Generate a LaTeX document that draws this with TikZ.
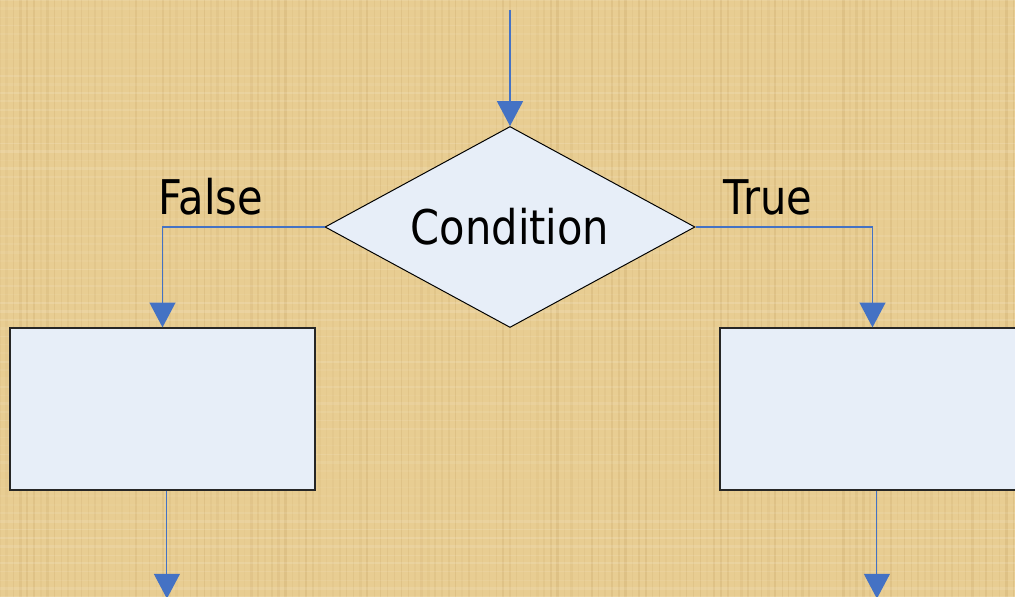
\documentclass[tikz,border=0pt]{standalone}
\usepackage{fontspec}
\setmainfont{DejaVu Sans}[FakeStretch=0.87]
\usepackage{xcolor}
\usetikzlibrary{shapes.geometric,arrows.meta,positioning,calc}
\definecolor{papyrus}{RGB}{232,205,146}
\definecolor{reedbrown}{RGB}{176,136,70}
\definecolor{flowblue}{RGB}{68,114,196}
\definecolor{boxfill}{RGB}{231,238,248}

\begin{document}
\begin{tikzpicture}[
    decision/.style={diamond, aspect=1.84, minimum width=9.25cm, minimum height=5.025cm, inner sep=0pt, fill=boxfill, draw=black, line width=0.7pt, font=\fontsize{34}{40}\selectfont},
    process/.style={rectangle, minimum width=7.625cm, minimum height=4.05cm, fill=boxfill, draw=black!85, line width=0.9pt},
    flow/.style={-{Triangle[length=0.62cm,width=0.65cm]}, flowblue, line width=0.8pt},
    branch/.style={font=\fontsize{34}{40}\selectfont}
]

% Papyrus background
\useasboundingbox (0,0) rectangle (25.375,14.925);
\clip (0,0) rectangle (25.375,14.925);
\fill[papyrus] (0,0) rectangle (25.375,14.925);
\pgfmathsetseed{42}
\foreach \x in {0,0.17,...,25.4} {
    \pgfmathsetmacro{\op}{0.05+0.12*rnd}
    \pgfmathsetmacro{\lw}{0.4+1.6*rnd}
    \draw[reedbrown, opacity=\op, line width=\lw pt] (\x,0) -- (\x,14.925);
}
\foreach \y in {0,0.21,...,14.95} {
    \pgfmathsetmacro{\op}{0.04+0.10*rnd}
    \pgfmathsetmacro{\lw}{0.4+1.8*rnd}
    \draw[white, opacity=\op, line width=\lw pt] (0,\y) -- (25.375,\y);
}

% Decision and the two branches
\node[decision] (cond) at (12.75, 9.25) {Condition};
\node[process] (lbox) at (4.0625, 4.7) {};
\node[process] (rbox) at (21.8125, 4.7) {};

\node[branch] (false) at (5.275, 10.0) {False};
\node[branch] (true) at (19.2, 10.0) {True};

% Entry and exit points
\coordinate (entry) at ($(cond.north)+(0,2.9)$);
\coordinate (lexit) at ($(lbox.south)+(0.11,-2.7)$);
\coordinate (rexit) at ($(rbox.south)+(0.11,-2.7)$);

% Connectors
\draw[flow] (entry) -- (cond.north);
\draw[flow] (cond.west) -| (lbox.north);
\draw[flow] (cond.east) -| (rbox.north);
\draw[flow] (lbox.south -| lexit) -- (lexit);
\draw[flow] (rbox.south -| rexit) -- (rexit);

\end{tikzpicture}
\end{document}
